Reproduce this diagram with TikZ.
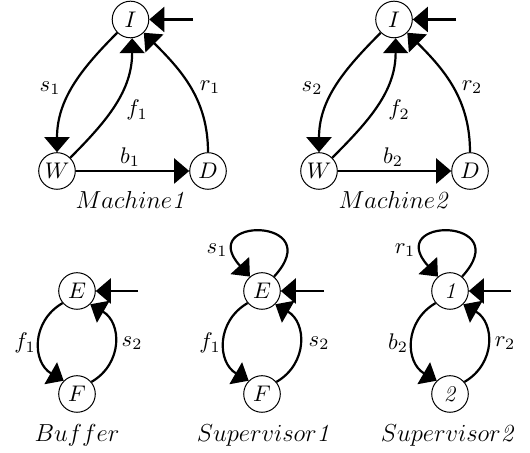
\RequirePackage{fix-cm}
\documentclass[tikz,border=0pt]{standalone}
\usetikzlibrary{arrows.meta}
\tikzset{
  st/.style={circle,draw,line width=0.5pt,minimum size=18.3pt,inner sep=0pt,font=\fontsize{11.3}{13}\selectfont},
  tr/.style={line width=1.1pt,-{Triangle[length=7.5pt,width=12.5pt]}},
  lbl/.style={font=\fontsize{11.3}{13}\selectfont,inner sep=0pt},
  captext/.style={font=\fontsize{12.3}{14}\selectfont,inner sep=0pt},
  arc/.style={tr,looseness=1.2}
}
\begin{document}
\begin{tikzpicture}[x=0.5pt,y=-0.5pt]
\useasboundingbox (0,0) rectangle (530,453);
% ---------- Machine 1
\node[st] (I1) at (130.5,19.5) {$I$};
\node[st] (W1) at (57,171) {$W$};
\node[st] (D1) at (208,171) {$D$};
\coordinate (e1) at (193,19.5);
\draw[tr] (e1) -- (I1);
\draw[tr] (I1.-135) to[out=-135,in=90] (W1.north);
\draw[tr] (W1.45) to[out=45,in=-90] (I1.-85);
\draw[tr] (D1.north) to[out=90,in=-45] (I1.-45);
\draw[tr] (W1) -- (D1);
\node[lbl] (ls1) at (50,88) {$s_1$};
\node[lbl] (lf1) at (137,110) {$f_1$};
\node[lbl] (lr1) at (210,87) {$r_1$};
\node[lbl] (lb1) at (130,157) {$b_1$};
\node[captext] (c1) at (130,200) {$Machine\textit{1}$};
% ---------- Machine 2
\node[st] (I2) at (394,19.5) {$I$};
\node[st] (W2) at (319,171) {$W$};
\node[st] (D2) at (470,171) {$D$};
\coordinate (e2) at (456,19.5);
\draw[tr] (e2) -- (I2);
\draw[tr] (I2.-135) to[out=-135,in=90] (W2.north);
\draw[tr] (W2.45) to[out=45,in=-90] (I2.-85);
\draw[tr] (D2.north) to[out=90,in=-45] (I2.-45);
\draw[tr] (W2) -- (D2);
\node[lbl] (ls2) at (312,88) {$s_2$};
\node[lbl] (lf2) at (399,110) {$f_2$};
\node[lbl] (lr2) at (472,87) {$r_2$};
\node[lbl] (lb2) at (393,157) {$b_2$};
\node[captext] (c2) at (393,200) {$Machine\textit{2}$};
% ---------- Buffer
\node[st] (BE) at (77,291) {$E$};
\node[st] (BF) at (77,394) {$F$};
\coordinate (e3) at (138,291);
\draw[tr] (e3) -- (BE);
\draw[arc] (BE.-140) to[out=-150,in=150] (BF.135);
\draw[arc] (BF.40) to[out=30,in=-30] (BE.-45);
\node[lbl] (lbf) at (25,343) {$f_1$};
\node[lbl] (lbs) at (132,343) {$s_2$};
\node[captext] (c3) at (77,435) {$Buffer$};
% ---------- Supervisor 1
\node[st] (SE) at (262,291) {$E$};
\node[st] (SF) at (262,394) {$F$};
\coordinate (e4) at (324,291);
\draw[tr] (e4) -- (SE);
\draw[arc] (SE.-140) to[out=-150,in=150] (SF.135);
\draw[arc] (SF.40) to[out=30,in=-30] (SE.-45);
\draw[tr] (SE.50) .. controls +(55,-60) and +(-55,-60) .. (SE.130);
\node[lbl] (lss1) at (217,250) {$s_1$};
\node[lbl] (lsf) at (210,343) {$f_1$};
\node[lbl] (lss2) at (319,343) {$s_2$};
\node[captext] (c4) at (263,435) {$Supervisor\textit{1}$};
% ---------- Supervisor 2
\node[st] (T1) at (450,291) {\textit{1}};
\node[st] (T2) at (450,394) {\textit{2}};
\coordinate (e5) at (511,291);
\draw[tr] (e5) -- (T1);
\draw[arc] (T1.-140) to[out=-150,in=150] (T2.135);
\draw[arc] (T2.40) to[out=30,in=-30] (T1.-45);
\draw[tr] (T1.50) .. controls +(55,-60) and +(-55,-60) .. (T1.130);
\node[lbl] (ltr1) at (405,250) {$r_1$};
\node[lbl] (ltb) at (398,343) {$b_2$};
\node[lbl] (ltr2) at (505,343) {$r_2$};
\node[captext] (c5) at (447,435) {$Supervisor\textit{2}$};
\end{tikzpicture}
\end{document}
